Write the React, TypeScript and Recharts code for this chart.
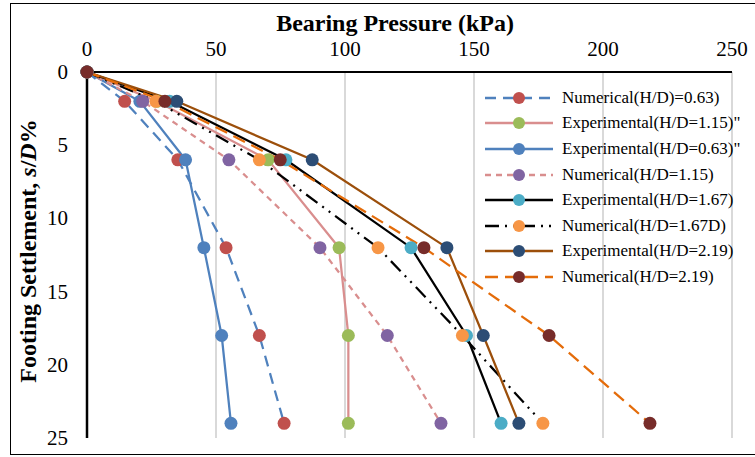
import { LineChart, Line, XAxis, YAxis, CartesianGrid } from "recharts";

// settlement s/D (%) at each load step
const settlement = [0, 2, 6, 12, 18, 24];

// bearing pressure (kPa)
const numerical063 = [0, 14.6, 35.2, 53.9, 66.8, 76.4];
const experimental115 = [0, 27, 70.2, 97.7, 101.3, 101.3];
const experimental063 = [0, 20.5, 38.2, 45.3, 52.2, 55.8];
const numerical115 = [0, 21.6, 55.0, 90.3, 116.4, 137.2];
const experimental167 = [0, 32, 77.1, 125.6, 147.1, 160.5];
const numerical167 = [0, 26.7, 66.8, 112.8, 145.5, 176.7];
const experimental219 = [0, 34.8, 87.3, 139.5, 153.6, 167.4];
const numerical219 = [0, 30.2, 74.9, 130.6, 179.1, 218.2];

const xTicks = [0, 50, 100, 150, 200, 250];
const yTicks = [0, 5, 10, 15, 20, 25];

const FONT = "'Liberation Serif', 'Times New Roman', serif";

const toPoints = (vals: number[]) => vals.map((p, i) => ({ p, s: settlement[i] }));

const SERIES = [
  { name: "Numerical(H/D)=0.63)", vals: numerical063, line: "#4F81BD", dot: "#C0504D", dash: "11 7" },
  { name: "Experimental(H/D=1.15)\"", vals: experimental115, line: "#D98E8E", dot: "#9BBB59", dash: undefined },
  { name: "Experimental(H/D=0.63)\"", vals: experimental063, line: "#4F81BD", dot: "#4F81BD", dash: undefined },
  { name: "Numerical(H/D=1.15)", vals: numerical115, line: "#D98E8E", dot: "#8064A2", dash: "6 5" },
  { name: "Experimental(H/D=1.67)", vals: experimental167, line: "#000000", dot: "#4BACC6", dash: undefined },
  { name: "Numerical(H/D=1.67D)", vals: numerical167, line: "#000000", dot: "#F79646", dash: "14 6 2 6 2 6" },
  { name: "Experimental(H/D=2.19)", vals: experimental219, line: "#9C4F0B", dot: "#2C4D75", dash: undefined },
  { name: "Numerical(H/D=2.19)", vals: numerical219, line: "#E46C0A", dot: "#772C2A", dash: "13 7" },
];

const XTick = (props: any) => (
  <text x={props.x} y={props.y - 16} textAnchor="middle" fontFamily={FONT} fontSize={21} fill="#000">
    {props.payload.value}
  </text>
);

const YTick = (props: any) => (
  <text x={props.x} y={props.y + 7} textAnchor="end" fontFamily={FONT} fontSize={21} fill="#000">
    {props.payload.value}
  </text>
);

function LegendBox() {
  return (
    <div style={{ position: "absolute", left: 485, top: 85, fontFamily: FONT, fontSize: 17, color: "#000" }}>
      {SERIES.map((s) => (
        <div key={s.name} style={{ display: "flex", alignItems: "center", height: 25.6 }}>
          <svg width={68} height={16} style={{ marginRight: 9 }}>
            <line x1={0} y1={8} x2={68} y2={8} stroke={s.line} strokeWidth={2.5} strokeDasharray={s.dash} />
            <circle cx={34} cy={8} r={6} fill={s.dot} />
          </svg>
          <span style={{ whiteSpace: "nowrap" }}>{s.name}</span>
        </div>
      ))}
    </div>
  );
}

export default function App() {
  return (
    <div style={{ position: "absolute", left: 0, top: 0, width: 755, height: 457, overflow: "hidden", background: "#fff" }}>
      <div style={{ position: "absolute", left: 10, top: 3, width: 760, height: 452, border: "1.5px solid #000", boxSizing: "border-box" }} />
      <LineChart width={755} height={457} margin={{ top: 42, right: 23, bottom: 19, left: 47 }}>
        <CartesianGrid horizontal={false} stroke="#D9D9D9" strokeWidth={2} />
        <XAxis
          type="number"
          dataKey="p"
          orientation="top"
          domain={[0, 250]}
          ticks={xTicks}
          height={30}
          tickSize={0}
          tickMargin={0}
          tickLine={false}
          axisLine={{ stroke: "#000", strokeWidth: 2 }}
          tick={<XTick />}
        />
        <YAxis
          type="number"
          dataKey="s"
          reversed
          domain={[0, 25]}
          ticks={yTicks}
          width={40}
          tickSize={0}
          tickMargin={19}
          tickLine={false}
          axisLine={{ stroke: "#000", strokeWidth: 2.5 }}
          tick={<YTick />}
        />
        {SERIES.map((s) => (
          <Line
            key={s.name}
            data={toPoints(s.vals)}
            dataKey="s"
            type="linear"
            stroke={s.line}
            strokeWidth={2.25}
            strokeDasharray={s.dash}
            dot={{ r: 6.5, fill: s.dot, stroke: "none" }}
            activeDot={false}
            isAnimationActive={false}
          />
        ))}
      </LineChart>
      <svg width={755} height={457} style={{ position: "absolute", left: 0, top: 0, pointerEvents: "none" }}>
        <text x={395} y={31} textAnchor="middle" fontFamily={FONT} fontSize={24} fontWeight="bold" fill="#000">
          Bearing Pressure (kPa)
        </text>
        <text transform="translate(36,251) rotate(-90)" textAnchor="middle" fontFamily={FONT} fontSize={24} fontWeight="bold" fill="#000">
          Footing Settlement, <tspan fontStyle="italic">s</tspan>/<tspan fontStyle="italic">D</tspan>%
        </text>
      </svg>
      <LegendBox />
    </div>
  );
}
